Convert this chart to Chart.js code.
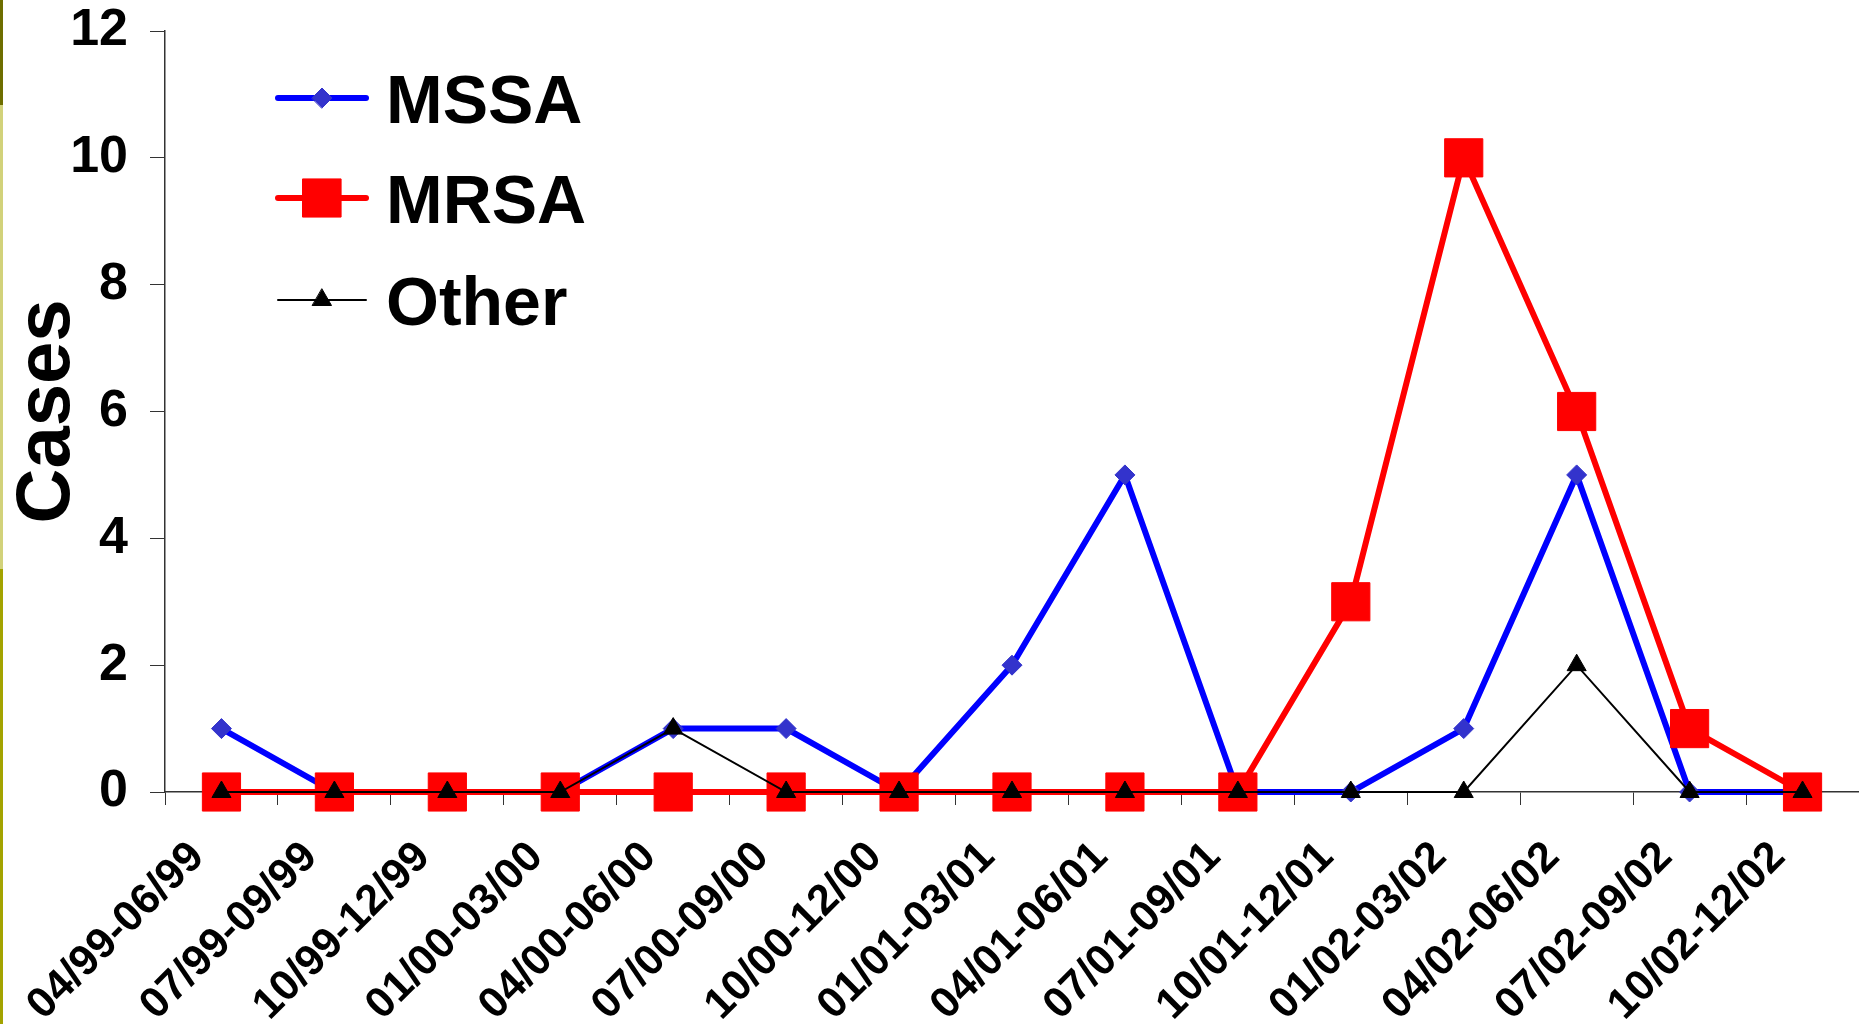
<!DOCTYPE html>
<html>
<head>
<meta charset="utf-8">
<title>Cases</title>
<script src="https://cdn.jsdelivr.net/npm/chart.js@4.4.1/dist/chart.umd.min.js"></script>
<style>
  html, body { margin: 0; padding: 0; background: #fff; }
  #wrap { position: relative; width: 1859px; height: 1024px; }
  #stripe { position: absolute; left: 0; top: 0; width: 3px; height: 1024px;
    background: linear-gradient(to bottom, #6e6e00 0, #6e6e00 105px, #d2d27a 105px, #d2d27a 569px, #a3a300 569px, #a3a300 1024px); }
</style>
</head>
<body>
<div id="wrap">
  <canvas id="grafico" width="1859" height="1024"></canvas>
  <div id="stripe"></div>
</div>
<script>
// Trimestres
var periodos = ['04/99-06/99', '07/99-09/99', '10/99-12/99', '01/00-03/00', '04/00-06/00',
  '07/00-09/00', '10/00-12/00', '01/01-03/01', '04/01-06/01', '07/01-09/01',
  '10/01-12/01', '01/02-03/02', '04/02-06/02', '07/02-09/02', '10/02-12/02'];

// Casos por trimestre
var mssa  = [1, 0, 0, 0, 1, 1, 0, 2, 5, 0, 0, 1, 5, 0, 0];
var mrsa  = [0, 0, 0, 0, 0, 0, 0, 0, 0, 0, 3, 10, 6, 1, 0];
var otros = [0, 0, 0, 0, 1, 0, 0, 0, 0, 0, 0, 0, 2, 0, 0];

var ticksY = [0, 2, 4, 6, 8, 10, 12];

var fuente = "'Liberation Sans', Arial, sans-serif";

// Leyenda dentro del area del grafico (arriba a la izquierda)
var leyenda = {
  id: 'leyendaInterna',
  afterDraw: function(chart) {
    var ctx = chart.ctx;
    var filas = [98, 198, 300];
    chart.data.datasets.forEach(function(ds, i) {
      var y = filas[i];
      ctx.save();
      ctx.strokeStyle = ds.borderColor;
      ctx.lineWidth = ds.borderWidth;
      ctx.lineCap = 'round';
      ctx.beginPath();
      ctx.moveTo(278, y);
      ctx.lineTo(366, y);
      ctx.stroke();
      ctx.fillStyle = ds.pointBackgroundColor;
      ctx.strokeStyle = ds.pointBorderColor;
      ctx.lineWidth = 1;
      Chart.helpers.drawPoint(ctx, {pointStyle: ds.pointStyle, radius: ds.pointRadius, rotation: 0, borderWidth: 1}, 322, y);
      ctx.fillStyle = '#000';
      ctx.font = 'bold 68px ' + fuente;
      ctx.textBaseline = 'alphabetic';
      ctx.textAlign = 'left';
      ctx.fillText(ds.label, 386, y + 25);
      ctx.restore();
    });
  }
};

new Chart(document.getElementById('grafico'), {
  type: 'line',
  data: {
    labels: periodos,
    datasets: [
      {
        label: 'MSSA',
        data: mssa,
        borderColor: '#0000FF',
        borderWidth: 6,
        pointStyle: 'rectRot',
        pointRadius: 10,
        pointBackgroundColor: '#3333CC',
        pointBorderColor: '#3333CC',
        pointBorderWidth: 1,
        order: 3,
        clip: false
      },
      {
        label: 'MRSA',
        data: mrsa,
        borderColor: '#FF0000',
        borderWidth: 6,
        pointStyle: 'rect',
        pointRadius: 27,
        pointBackgroundColor: '#FF0000',
        pointBorderColor: '#FF0000',
        pointBorderWidth: 1,
        order: 2,
        clip: false
      },
      {
        label: 'Other',
        data: otros,
        borderColor: '#000000',
        borderWidth: 2,
        pointStyle: 'triangle',
        pointRadius: 11,
        pointBackgroundColor: '#000000',
        pointBorderColor: '#000000',
        pointBorderWidth: 1,
        order: 1,
        clip: false
      }
    ]
  },
  options: {
    responsive: false,
    animation: false,
    layout: { autoPadding: false, padding: { top: 31, right: 0, bottom: 0, left: 0 } },
    elements: { line: { tension: 0 } },
    plugins: {
      legend: { display: false },
      tooltip: { enabled: false }
    },
    scales: {
      x: {
        offset: true,
        grid: { display: true, drawOnChartArea: false, drawTicks: true, tickLength: 13, color: '#333', offset: true },
        border: { display: true, color: '#333', width: 1.5 },
        ticks: {
          color: '#000',
          font: { family: fuente, size: 43, weight: 'bold' },
          minRotation: 45,
          maxRotation: 45,
          autoSkip: false,
          labelOffset: -24,
          padding: 27
        },
        afterFit: function(scale) {
          scale.height = 232;
          scale.paddingRight = 0;
        }
      },
      y: {
        min: 0,
        max: 12,
        afterBuildTicks: function(scale) {
          scale.ticks = ticksY.map(function(v) { return {value: v}; });
        },
        grid: { display: true, drawOnChartArea: false, drawTicks: true, tickLength: 15, color: '#333' },
        border: { display: true, color: '#333', width: 1.5 },
        ticks: {
          color: '#000',
          font: { family: fuente, size: 52, weight: 'bold' },
          padding: 22
        },
        title: {
          display: true,
          text: 'Cases',
          color: '#000',
          font: { family: fuente, size: 76, weight: 'bold', lineHeight: 1 },
          padding: { top: 10, bottom: 4 }
        },
        afterFit: function(scale) {
          scale.width = 165;
          scale.paddingTop = 0;
          scale.paddingBottom = 0;
        }
      }
    }
  },
  plugins: [leyenda]
});
</script>
</body>
</html>
